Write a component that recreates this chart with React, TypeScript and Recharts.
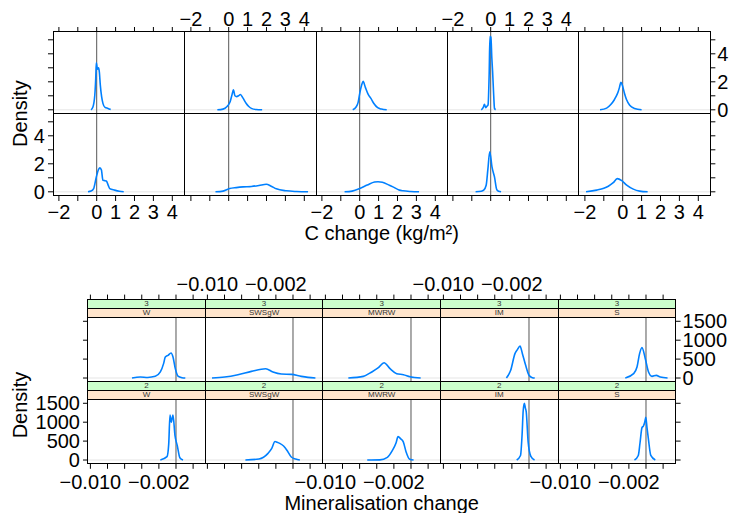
import React from "react";
import { LineChart, Line, XAxis, YAxis, ReferenceLine } from "recharts";

// ---------- categories ----------
const systems = ["W", "SWSgW", "MWRW", "IM", "S"];
const depths = ["3", "2"];

// ---------- C change (kg/m²) density curves ----------
const cW3X = [-0.3, -0.2, -0.1, -0.05, -0.02, 0.04, 0.1, 0.14, 0.19, 0.26, 0.33, 0.44, 0.6, 0.74];
const cW3Y = [0, 0.2, 1.06, 2.27, 3.35, 2.9, 3.0, 2.7, 1.78, 0.94, 0.46, 0.17, 0.1, 0.02];
const cSWSgW3X = [-0.6, -0.3, -0.1, 0.08, 0.18, 0.25, 0.33, 0.42, 0.52, 0.62, 0.75, 0.93, 1.05, 1.2, 1.45, 1.77];
const cSWSgW3Y = [0, 0.05, 0.22, 0.6, 1.1, 1.42, 1.0, 0.94, 1.0, 1.09, 0.85, 0.45, 0.25, 0.1, 0.02, 0];
const cMWRW3X = [-0.37, -0.19, -0.08, 0.0, 0.1, 0.18, 0.3, 0.45, 0.6, 0.75, 0.95, 1.15, 1.43];
const cMWRW3Y = [0, 0.2, 0.55, 1.16, 1.75, 2.03, 1.6, 1.1, 0.8, 0.45, 0.15, 0.05, 0];
const cIM3X = [-0.5, -0.4, -0.33, -0.27, -0.2, -0.14, -0.08, -0.04, 0.01, 0.06, 0.1, 0.16, 0.2, 0.26];
const cIM3Y = [0, 0.15, 0.4, 0.15, 0.25, 0.35, 2.6, 5.24, 5.2, 3.7, 2.75, 1.0, 0.1, 0];
const cS3X = [-1.2, -0.85, -0.63, -0.45, -0.37, -0.25, -0.17, -0.1, -0.03, 0.1, 0.2, 0.37, 0.63, 1.0];
const cS3Y = [0, 0.12, 0.38, 0.7, 0.9, 1.25, 1.6, 1.96, 1.8, 1.15, 0.73, 0.33, 0.1, 0];

const cW2X = [-0.46, -0.3, -0.16, -0.02, 0.1, 0.17, 0.25, 0.33, 0.42, 0.51, 0.6, 0.69, 0.95, 1.2, 1.43];
const cW2Y = [0, 0.05, 0.23, 1.06, 1.6, 1.71, 1.55, 0.82, 0.8, 0.77, 0.5, 0.23, 0.12, 0.04, 0];
const cSWSgW2X = [-0.7, -0.3, 0.05, 0.4, 0.76, 1.2, 1.6, 1.99, 2.25, 2.52, 3.05, 3.6, 4.2];
const cSWSgW2Y = [0, 0.05, 0.23, 0.3, 0.35, 0.38, 0.45, 0.54, 0.4, 0.21, 0.07, 0.02, 0];
const cMWRW2X = [-0.8, -0.4, 0.0, 0.4, 0.79, 0.97, 1.2, 1.57, 1.76, 2.1, 2.29, 2.7, 3.14];
const cMWRW2Y = [0, 0.05, 0.23, 0.48, 0.7, 0.72, 0.68, 0.47, 0.35, 0.12, 0.07, 0.02, 0];
const cIM2X = [-0.8, -0.5, -0.37, -0.24, -0.15, -0.05, 0.07, 0.2, 0.32, 0.42, 0.55];
const cIM2Y = [0, 0.04, 0.12, 0.47, 1.6, 2.86, 1.76, 1.06, 0.16, 0.04, 0];
const cS2X = [-1.94, -1.38, -1.0, -0.76, -0.5, -0.29, -0.05, 0.21, 0.56, 0.9, 1.32];
const cS2Y = [0, 0.12, 0.25, 0.4, 0.65, 0.94, 0.8, 0.47, 0.19, 0.05, 0];

// ---------- Mineralisation change density curves ----------
const mW3X = [-0.00514, -0.00417, -0.0033, -0.00242, -0.00183, -0.00145, -0.00125, -0.00093, -0.00058, -0.00035, -0.00008, 0.00023, 0.0007, 0.00109];
const mW3Y = [0, 25, 15, 44, 160, 380, 555, 600, 660, 555, 247, 53, 9, 0];
const mSWSgW3X = [-0.00946, -0.00798, -0.00643, -0.00486, -0.00319, -0.00234, -0.00136, -0.00019, 0.00098, 0.00175, 0.00262];
const mSWSgW3Y = [0, 26, 88, 176, 247, 159, 106, 97, 44, 18, 0];
const mMWRW3X = [-0.00732, -0.00557, -0.00459, -0.00381, -0.00315, -0.00245, -0.00167, -0.00089, -0.00012, 0.00113];
const mMWRW3Y = [0, 44, 159, 273, 405, 247, 115, 88, 35, 0];
const mIM3X = [-0.00264, -0.00214, -0.00164, -0.00136, -0.00105, -0.00077, -0.00039, 0, 0.00039, 0.00067];
const mIM3Y = [0, 203, 644, 750, 847, 644, 335, 71, 9, 0];
const mS3X = [-0.00242, -0.00145, -0.00105, -0.00075, -0.00047, -0.00008, 0.0003, 0.0007, 0.0012, 0.00167, 0.00252];
const mS3Y = [0, 115, 291, 644, 803, 511, 159, 44, 71, 26, 0];

const mW2X = [-0.00183, -0.00105, -0.00085, -0.0007, -0.00055, -0.00035, -0.00012, 0.00015, 0.00045, 0.00082];
const mW2Y = [0, 88, 420, 1190, 1000, 1190, 650, 380, 60, 0];
const mSWSgW2X = [-0.00556, -0.00397, -0.00292, -0.0025, -0.0021, -0.00185, -0.00155, -0.0011, -0.0006, -0.0002, 0.0003, 0.0008];
const mSWSgW2Y = [0, 26, 176, 300, 490, 470, 440, 370, 220, 80, 25, 0];
const mMWRW2X = [-0.00511, -0.00365, -0.00276, -0.00217, -0.00175, -0.00151, -0.0012, -0.0009, -0.00058, -0.00015, 0.0003];
const mMWRW2Y = [0, 5, 71, 254, 450, 619, 560, 480, 220, 20, 0];
const mIM2X = [-0.00144, -0.00099, -0.0008, -0.00068, -0.00054, -0.00043, -0.00032, -0.0001, 0.00022, 0.00065];
const mIM2Y = [0, 120, 700, 1296, 1497, 1380, 1270, 481, 97, 0];
const mS2X = [-0.00135, -0.0009, -0.0007, -0.00047, -0.0003, -0.00015, -0.00002, 0.00012, 0.00029, 0.00056, 0.00109];
const mS2Y = [0, 120, 450, 855, 900, 1000, 1127, 850, 537, 120, 0];

// ---------- ticks ----------
const cXTicks = [-2, -1, 0, 1, 2, 3, 4];
const cXTickLabels = ["\u22122", "", "0", "1", "2", "3", "4"];
const cYTicks = [0, 1, 2, 3, 4, 5];
const cYTickLabels = ["0", "", "2", "", "4", ""];
const mXTicks = [-0.01, -0.008, -0.006, -0.004, -0.002, 0, 0.002];
const mXTickLabels = ["\u22120.010", "", "", "", "\u22120.002", "", ""];
const mYTicks = [0, 500, 1000, 1500];
const mYTickLabels = ["0", "500", "1000", "1500"];

const cSeries = [
  [[cW3X, cW3Y], [cSWSgW3X, cSWSgW3Y], [cMWRW3X, cMWRW3Y], [cIM3X, cIM3Y], [cS3X, cS3Y]],
  [[cW2X, cW2Y], [cSWSgW2X, cSWSgW2Y], [cMWRW2X, cMWRW2Y], [cIM2X, cIM2Y], [cS2X, cS2Y]],
];
const mSeries = [
  [[mW3X, mW3Y], [mSWSgW3X, mSWSgW3Y], [mMWRW3X, mMWRW3Y], [mIM3X, mIM3Y], [mS3X, mS3Y]],
  [[mW2X, mW2Y], [mSWSgW2X, mSWSgW2Y], [mMWRW2X, mMWRW2Y], [mIM2X, mIM2Y], [mS2X, mS2Y]],
];

const FONT = "'Liberation Sans', Arial, Helvetica, sans-serif";
const PAD = 70;
const TL = 5;

type Edges = {
  top: boolean; topLab: boolean; bottom: boolean; bottomLab: boolean;
  left: boolean; leftLab: boolean; right: boolean; rightLab: boolean;
};

type PanelProps = {
  px: number; py: number; w: number; h: number;
  xs: number[]; ys: number[];
  xDomain: [number, number]; yDomain: [number, number];
  xTicks: number[]; xLabels: string[]; yTicks: number[]; yLabels: string[];
  edges: Edges; topGap: number; topLabGap: number; bottomLabGap: number;
  fontSize: number;
};

function Panel(p: PanelProps) {
  const data = p.xs.map((x, i) => ({ x, y: p.ys[i] }));
  const W = p.w + 2 * PAD;
  const H = p.h + 2 * PAD;
  const pl = PAD, pr = PAD + p.w, pt = PAD, pb = PAD + p.h;
  const e = p.edges;
  const XTick = (props: any) => {
    const { x, index } = props;
    const lab = p.xLabels[index];
    const tTop = pt - p.topGap;
    return (
      <g>
        {e.bottom && <line x1={x} x2={x} y1={pb} y2={pb + TL} stroke="#000" strokeWidth={1} />}
        {e.bottomLab && lab && (
          <text x={x} y={pb + p.bottomLabGap} textAnchor="middle" dominantBaseline="central" fontSize={p.fontSize} fontFamily={FONT} fill="#000">{lab}</text>
        )}
        {e.top && <line x1={x} x2={x} y1={tTop} y2={tTop - TL} stroke="#000" strokeWidth={1} />}
        {e.topLab && lab && (
          <text x={x} y={tTop - p.topLabGap} textAnchor="middle" dominantBaseline="central" fontSize={p.fontSize} fontFamily={FONT} fill="#000">{lab}</text>
        )}
      </g>
    );
  };
  const YTick = (props: any) => {
    const { y, index } = props;
    const lab = p.yLabels[index];
    return (
      <g>
        {e.left && <line x1={pl} x2={pl - TL} y1={y} y2={y} stroke="#000" strokeWidth={1} />}
        {e.leftLab && lab && (
          <text x={pl - 8} y={y} textAnchor="end" dominantBaseline="central" fontSize={p.fontSize} fontFamily={FONT} fill="#000">{lab}</text>
        )}
        {e.right && <line x1={pr} x2={pr + TL} y1={y} y2={y} stroke="#000" strokeWidth={1} />}
        {e.rightLab && lab && (
          <text x={pr + 7} y={y} textAnchor="start" dominantBaseline="central" fontSize={p.fontSize} fontFamily={FONT} fill="#000">{lab}</text>
        )}
      </g>
    );
  };
  return (
    <>
      <div style={{ position: "absolute", left: p.px - PAD, top: p.py - PAD, width: W, height: H }}>
        <LineChart width={W} height={H} data={data} margin={{ top: PAD, right: PAD, bottom: 0, left: 0 }}>
          <XAxis dataKey="x" type="number" domain={p.xDomain} ticks={p.xTicks} interval={0} allowDataOverflow height={PAD}
            tickSize={0} tickMargin={0} tickLine={false} axisLine={false} tick={XTick} />
          <YAxis type="number" domain={p.yDomain} ticks={p.yTicks} interval={0} allowDataOverflow width={PAD}
            tickSize={0} tickMargin={0} tickLine={false} axisLine={false} tick={YTick} />
          <ReferenceLine y={0} stroke="#e6e6e6" strokeWidth={1} />
          <ReferenceLine x={0} stroke="#555" strokeWidth={1} />
          <Line dataKey="y" type="monotone" stroke="#0080ff" strokeWidth={1.6} dot={false} isAnimationActive={false} />
        </LineChart>
      </div>
      <div style={{ position: "absolute", left: p.px - 0.5, top: p.py - 0.5, width: p.w + 1, height: p.h + 1, border: "1px solid #000", boxSizing: "border-box", pointerEvents: "none" }} />
    </>
  );
}

function edgesFor(r: number, c: number): Edges {
  return {
    top: r === 0, topLab: r === 0 && c % 2 === 1,
    bottom: r === 1, bottomLab: r === 1 && c % 2 === 0,
    left: c === 0, leftLab: c === 0 && r === 1,
    right: c === 4, rightLab: c === 4 && r === 0,
  };
}

export default function App() {
  // top lattice geometry
  const cL = 53.3, cT = 31.7, cW = 131.36, cH = 82;
  // bottom lattice geometry
  const mL = 87.7, mT = 299.3, mW = 117.6, mH = 63.8, sH = 9.2, mRow = 82.2;
  const TICK_FS = 20;

  const panels: React.ReactNode[] = [];
  depths.forEach((d, r) => {
    systems.forEach((s, c) => {
      const [xs, ys] = cSeries[r][c];
      panels.push(
        <Panel key={`c-${d}-${s}`} px={cL + c * cW} py={cT + r * cH} w={cW} h={cH} xs={xs} ys={ys}
          xDomain={[-2.312, 4.638]} yDomain={[-0.3, 5.557]} xTicks={cXTicks} xLabels={cXTickLabels}
          yTicks={cYTicks} yLabels={cYTickLabels} edges={edgesFor(r, c)} topGap={0} topLabGap={13.4}
          bottomLabGap={16} fontSize={TICK_FS} />
      );
    });
  });
  depths.forEach((d, r) => {
    systems.forEach((s, c) => {
      const [xs, ys] = mSeries[r][c];
      const stripTop = mT + r * mRow;
      const left = mL + c * mW;
      panels.push(
        <Panel key={`m-${d}-${s}`} px={left} py={stripTop + 2 * sH} w={mW} h={mH} xs={xs} ys={ys}
          xDomain={[-0.01028, 0.003458]} yDomain={[-100, 1587]} xTicks={mXTicks} xLabels={mXTickLabels}
          yTicks={mYTicks} yLabels={mYTickLabels} edges={edgesFor(r, c)} topGap={2 * sH} topLabGap={16}
          bottomLabGap={18} fontSize={TICK_FS} />
      );
      panels.push(
        <div key={`sg-${d}-${s}`} style={{ position: "absolute", left: left - 0.5, top: stripTop - 0.5, width: mW + 1, height: sH + 1, background: "#CCFFCC", border: "1px solid #000", boxSizing: "border-box", fontFamily: FONT, fontSize: 8, lineHeight: `${sH - 1}px`, textAlign: "center", color: "#333" }}>{d}</div>
      );
      panels.push(
        <div key={`so-${d}-${s}`} style={{ position: "absolute", left: left - 0.5, top: stripTop + sH - 0.5, width: mW + 1, height: sH + 1, background: "#FFE5CC", border: "1px solid #000", boxSizing: "border-box", fontFamily: FONT, fontSize: 8, lineHeight: `${sH - 1}px`, textAlign: "center", color: "#333" }}>{s}</div>
      );
    });
  });

  return (
    <div style={{ position: "absolute", left: 0, top: 0, width: 732, height: 513, background: "#fff", overflow: "hidden" }}>
      {panels}
      <svg width={732} height={513} style={{ position: "absolute", left: 0, top: 0, pointerEvents: "none" }}>
        <text transform="translate(20,113.7) rotate(-90)" textAnchor="middle" dominantBaseline="central" fontFamily={FONT} fontSize={20}>Density</text>
        <text x={381.7} y={233} textAnchor="middle" dominantBaseline="central" fontFamily={FONT} fontSize={20}>C change (kg/m²)</text>
        <text transform="translate(20,405) rotate(-90)" textAnchor="middle" dominantBaseline="central" fontFamily={FONT} fontSize={20}>Density</text>
        <text x={381.7} y={503} textAnchor="middle" dominantBaseline="central" fontFamily={FONT} fontSize={20}>Mineralisation change</text>
      </svg>
    </div>
  );
}
